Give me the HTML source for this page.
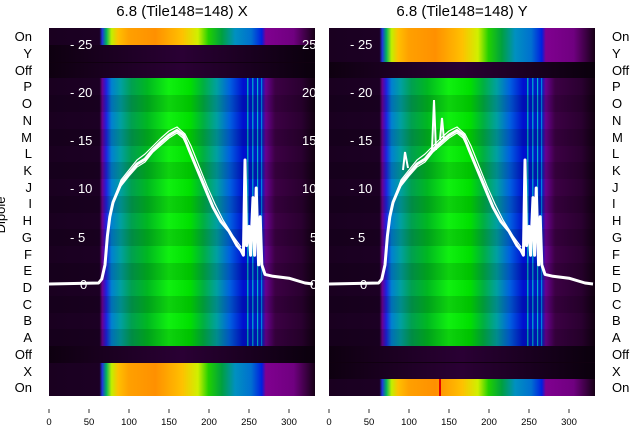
<!DOCTYPE html>
<html><head><meta charset="utf-8"><style>
body{margin:0;background:#fff;}
svg{display:block;font-family:"Liberation Sans","DejaVu Sans",sans-serif;}
</style></head><body>
<svg width="640" height="440" viewBox="0 0 640 440" xmlns="http://www.w3.org/2000/svg">
<defs>
<linearGradient id="spec" x1="0" x2="1" y1="0" y2="0">
<stop offset="0" stop-color="#1a0020"/>
<stop offset="0.19" stop-color="#1c0024"/>
<stop offset="0.2" stop-color="#6a0090"/>
<stop offset="0.215" stop-color="#2020e0"/>
<stop offset="0.235" stop-color="#0080d0"/>
<stop offset="0.27" stop-color="#00a0a0"/>
<stop offset="0.31" stop-color="#00a050"/>
<stop offset="0.37" stop-color="#00b820"/>
<stop offset="0.45" stop-color="#10f010"/>
<stop offset="0.53" stop-color="#00e000"/>
<stop offset="0.58" stop-color="#00b040"/>
<stop offset="0.63" stop-color="#00a0a0"/>
<stop offset="0.68" stop-color="#0060e0"/>
<stop offset="0.73" stop-color="#0010d0"/>
<stop offset="0.8" stop-color="#0020c0"/>
<stop offset="0.815" stop-color="#6a0090"/>
<stop offset="0.85" stop-color="#3c0044"/>
<stop offset="0.95" stop-color="#2a0030"/>
<stop offset="1" stop-color="#100010"/>
</linearGradient>
<linearGradient id="hot" x1="0" x2="1" y1="0" y2="0">
<stop offset="0" stop-color="#1a0020"/>
<stop offset="0.19" stop-color="#1c0024"/>
<stop offset="0.2" stop-color="#2030e0"/>
<stop offset="0.215" stop-color="#00b060"/>
<stop offset="0.235" stop-color="#c0f000"/>
<stop offset="0.26" stop-color="#ffc000"/>
<stop offset="0.3" stop-color="#ffa000"/>
<stop offset="0.4" stop-color="#ff9000"/>
<stop offset="0.5" stop-color="#ffc000"/>
<stop offset="0.56" stop-color="#d0f000"/>
<stop offset="0.6" stop-color="#20d000"/>
<stop offset="0.65" stop-color="#00a040"/>
<stop offset="0.7" stop-color="#0090c0"/>
<stop offset="0.76" stop-color="#0070d0"/>
<stop offset="0.8" stop-color="#0020e0"/>
<stop offset="0.815" stop-color="#800090"/>
<stop offset="0.92" stop-color="#700080"/>
<stop offset="1" stop-color="#150015"/>
</linearGradient>
<linearGradient id="dark" x1="0" x2="1" y1="0" y2="0">
<stop offset="0" stop-color="#0e0010"/>
<stop offset="0.5" stop-color="#2a0034"/>
<stop offset="1" stop-color="#0a000c"/>
</linearGradient>
<g id="curve" fill="none" stroke="#fff" stroke-linejoin="round">
<path stroke-width="3" d="M49,284 L98.6,283 L101.8,279 L105,264.8 L107.4,236 L109.8,216.8 L113,202.4 L121,183.2 L129,173.6 L137,164 L145,159.2 L153,149.6 L161,142 L169,135.2 L177,130.4 L183.4,135.2 L189,149.6 L197,168.8 L205,188 L213,207.2 L221,221.6 L229,231.2 L237,245.6 L241,250.4 L243.4,255.2 L245,160 L246.6,245.6 L249,226.4 L250.6,255.2 L253,197.6 L254.6,255.2 L256.2,188 L258.6,264.8 L260.2,216.8 L261.8,264.8 L265,274.4 L273,276.3 L289,278.2 L305,283 L313,284"/>
<path stroke-width="1.2" d="M110,212 L121,180 L129,170 L137,160 L145,154 L153,146 L161,138 L169,131 L177,127 L185,134 L191,146 L199,166 L207,186 L215,204 L223,220 L233,236 L241,247"/>
<path stroke-width="1.2" d="M112,206 L121,186 L129,176 L137,167 L145,162 L153,152 L161,145 L169,138 L177,133 L183,138 L190,152 L199,171 L207,190"/>
</g>
<g id="stripes">
<rect x="247" y="0" width="1.5" height="268" fill="#00a0c0"/>
<rect x="252" y="0" width="1.5" height="268" fill="#0090d0"/>
<rect x="257" y="0" width="1.2" height="268" fill="#00b0d0"/>
<rect x="261" y="0" width="1.2" height="268" fill="#0080e0"/>
</g>
</defs>
<rect width="640" height="440" fill="#fff"/>

<!-- left panel -->
<g>
<rect x="49" y="28" width="266" height="368" fill="#1a0020"/>
<rect x="49" y="28" width="266" height="17" fill="url(#hot)"/>
<rect x="49" y="45" width="266" height="33" fill="url(#dark)"/>
<rect x="49" y="62" width="266" height="1" fill="#100010"/>
<rect x="49" y="78" width="266" height="268" fill="url(#spec)"/>
<g transform="translate(0,78)"><use href="#stripes"/></g>
<rect x="49" y="346" width="266" height="17" fill="url(#dark)"/>
<rect x="49" y="363" width="266" height="33" fill="url(#hot)"/>
<g fill="#000" opacity="0.12">
<rect x="49" y="95" width="266" height="17"/><rect x="49" y="129" width="266" height="17"/><rect x="49" y="162" width="266" height="17"/><rect x="49" y="196" width="266" height="17"/><rect x="49" y="229" width="266" height="17"/><rect x="49" y="263" width="266" height="17"/><rect x="49" y="296" width="266" height="17"/><rect x="49" y="329" width="266" height="17"/>
</g>
<g fill="#fff" font-size="13">
<text x="70" y="49">- 25</text><text x="70" y="97">- 20</text><text x="70" y="145">- 15</text><text x="70" y="193">- 10</text><text x="70" y="242">- 5</text><text x="80" y="289">0</text>
<text x="302" y="49">25</text><text x="302" y="97">20</text><text x="302" y="145">15</text><text x="302" y="193">10</text><text x="310" y="242">5</text><text x="310" y="289">0</text>
</g>
<use href="#curve"/>
</g>

<!-- right panel -->
<g>
<rect x="329" y="28" width="266" height="368" fill="#1a0020"/>
<rect x="329" y="28" width="266" height="34" fill="url(#hot)"/>
<rect x="329" y="62" width="266" height="16" fill="url(#dark)"/>
<rect x="329" y="78" width="266" height="268" fill="url(#spec)"/>
<g transform="translate(280,78)"><use href="#stripes"/></g>
<rect x="329" y="346" width="266" height="33" fill="url(#dark)"/>
<rect x="329" y="362" width="266" height="1" fill="#100010"/>
<rect x="329" y="379" width="266" height="17" fill="url(#hot)"/>
<rect x="439" y="379" width="2" height="17" fill="#e00000"/>
<g fill="#000" opacity="0.12">
<rect x="329" y="95" width="266" height="17"/><rect x="329" y="129" width="266" height="17"/><rect x="329" y="162" width="266" height="17"/><rect x="329" y="196" width="266" height="17"/><rect x="329" y="229" width="266" height="17"/><rect x="329" y="263" width="266" height="17"/><rect x="329" y="296" width="266" height="17"/><rect x="329" y="329" width="266" height="17"/>
</g>
<g fill="#fff" font-size="13">
<text x="350" y="49">- 25</text><text x="350" y="97">- 20</text><text x="350" y="145">- 15</text><text x="350" y="193">- 10</text><text x="350" y="242">- 5</text><text x="360" y="289">0</text>
</g>
<g transform="translate(280,0)"><use href="#curve"/></g>
<path d="M432,150 L434,100 L436,150 M440,140 L442,118 L444,140 M403,170 L405,152 L408,168" stroke="#fff" stroke-width="2" fill="none"/>
</g>

<!-- titles -->
<text x="182" y="16" font-size="15" text-anchor="middle" fill="#000">6.8 (Tile148=148) X</text>
<text x="462" y="16" font-size="15" text-anchor="middle" fill="#000">6.8 (Tile148=148) Y</text>

<!-- left labels -->
<g font-size="13" fill="#000" text-anchor="end">
<text x="32" y="41">On</text><text x="32" y="58">Y</text><text x="32" y="75">Off</text><text x="32" y="91">P</text><text x="32" y="108">O</text><text x="32" y="125">N</text><text x="32" y="142">M</text><text x="32" y="158">L</text><text x="32" y="175">K</text><text x="32" y="192">J</text><text x="32" y="208">I</text><text x="32" y="225">H</text><text x="32" y="242">G</text><text x="32" y="259">F</text><text x="32" y="275">E</text><text x="32" y="292">D</text><text x="32" y="309">C</text><text x="32" y="325">B</text><text x="32" y="342">A</text><text x="32" y="359">Off</text><text x="32" y="376">X</text><text x="32" y="392">On</text>
</g>
<text transform="translate(5,215) rotate(-90)" font-size="13" text-anchor="middle" fill="#000">Dipole</text>
<g font-size="13" fill="#000">
<text x="612" y="41">On</text><text x="612" y="58">Y</text><text x="612" y="75">Off</text><text x="612" y="91">P</text><text x="612" y="108">O</text><text x="612" y="125">N</text><text x="612" y="142">M</text><text x="612" y="158">L</text><text x="612" y="175">K</text><text x="612" y="192">J</text><text x="612" y="208">I</text><text x="612" y="225">H</text><text x="612" y="242">G</text><text x="612" y="259">F</text><text x="612" y="275">E</text><text x="612" y="292">D</text><text x="612" y="309">C</text><text x="612" y="325">B</text><text x="612" y="342">A</text><text x="612" y="359">Off</text><text x="612" y="376">X</text><text x="612" y="392">On</text>
</g>

<!-- x ticks -->
<g stroke="#000" stroke-width="0.8">
<path d="M49,409v4M89,409v4M129,409v4M169,409v4M209,409v4M249,409v4M289,409v4"/>
<path d="M329,409v4M369,409v4M409,409v4M449,409v4M489,409v4M529,409v4M569,409v4"/>
</g>
<g font-size="9.5" fill="#000" text-anchor="middle">
<text x="49" y="425">0</text><text x="89" y="425">50</text><text x="129" y="425">100</text><text x="169" y="425">150</text><text x="209" y="425">200</text><text x="249" y="425">250</text><text x="289" y="425">300</text>
<text x="329" y="425">0</text><text x="369" y="425">50</text><text x="409" y="425">100</text><text x="449" y="425">150</text><text x="489" y="425">200</text><text x="529" y="425">250</text><text x="569" y="425">300</text>
</g>
</svg>
</body></html>
